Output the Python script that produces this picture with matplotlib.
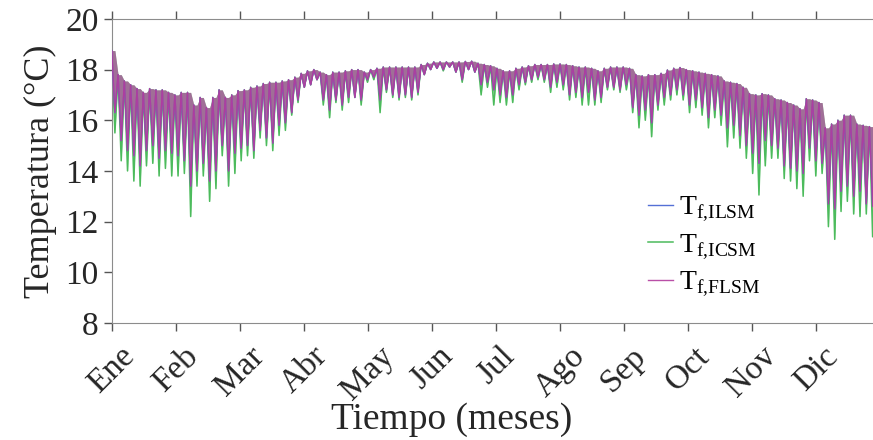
import matplotlib
matplotlib.use('Agg')
import matplotlib.pyplot as plt
import numpy as np

# Values sampled every 3 days (day 0, 3, ..., 363): daily upper level and
# the depth of the daily drop for each model, read off the reference.
sample_days = np.arange(0, 366, 3)

top = [18.75, 17.8, 17.55, 17.4, 17.25, 17.1, 17.25, 17.2, 17.2, 17.1,
       17.0, 17.1, 17.1, 16.6, 16.9, 16.5, 16.9, 17.2, 16.9, 17.0,
       17.17, 17.2, 17.3, 17.35, 17.45, 17.5, 17.5, 17.55, 17.6, 17.7,
       17.85, 17.95, 18.0, 17.9, 17.8, 17.9, 17.9, 17.95, 18.0, 18.0,
       17.9, 18.0, 18.05, 18.1, 18.1, 18.1, 18.1, 18.1, 18.1, 18.2,
       18.25, 18.3, 18.3, 18.3, 18.3, 18.3, 18.32, 18.33, 18.25, 18.2,
       18.15, 18.05, 17.95, 17.95, 18.05, 18.1, 18.15, 18.2, 18.2, 18.2,
       18.22, 18.22, 18.2, 18.15, 18.1, 18.1, 18.05, 17.95, 18.05, 18.1,
       18.1, 18.1, 18.05, 17.8, 17.75, 17.8, 17.8, 17.85, 17.98, 18.05,
       18.08, 18.0, 17.95, 17.9, 17.85, 17.8, 17.75, 17.55, 17.5, 17.45,
       17.3, 17.05, 17.0, 17.05, 17.0, 16.85, 16.8, 16.7, 16.6, 16.45,
       16.85, 16.8, 16.7, 15.7, 15.85, 16.0, 16.2, 16.2, 15.85, 15.8,
       15.75, 15.6]

low_flsm = [16.3, 15.2, 14.8, 14.6, 14.2, 14.8, 15.0, 14.5, 14.8, 14.7,
            14.6, 14.4, 13.4, 14.0, 14.3, 13.6, 14.0, 15.0, 14.0, 14.7,
            14.9, 15.0, 14.8, 15.6, 15.3, 15.1, 15.8, 15.9, 16.3, 16.8,
            17.3, 17.4, 17.6, 16.8, 16.4, 16.8, 16.6, 16.9, 16.9, 16.8,
            17.6, 17.7, 16.8, 17.2, 17.0, 16.9, 17.0, 16.9, 17.1, 17.8,
            18.0, 18.05, 18.0, 18.1, 17.9, 17.6, 18.0, 17.9, 17.4, 17.5,
            17.2, 17.0, 16.9, 17.0, 17.4, 17.5, 17.6, 17.7, 17.6, 17.3,
            17.5, 17.4, 17.0, 17.1, 16.9, 17.1, 16.8, 16.9, 17.3, 17.3,
            17.2, 17.4, 16.5, 16.2, 16.4, 15.9, 16.6, 16.9, 17.0, 17.2,
            17.0, 16.6, 16.8, 16.5, 16.1, 16.4, 16.2, 15.7, 15.8, 15.4,
            15.0, 14.7, 14.3, 15.2, 15.0, 14.9, 14.2, 14.1, 14.0, 13.9,
            14.9, 14.4, 14.3, 12.7, 12.5, 13.2, 13.4, 13.0, 13.2, 12.7,
            12.6, 13.0]

low_icsm = [15.5, 14.4, 14.0, 13.6, 13.4, 14.2, 14.3, 13.8, 14.1, 13.8,
            13.8, 13.9, 12.2, 13.4, 13.8, 12.8, 13.3, 14.6, 13.4, 13.9,
            14.4, 14.6, 14.5, 15.3, 15.0, 14.8, 15.4, 15.6, 16.2, 16.7,
            17.3, 17.4, 17.6, 16.6, 16.1, 16.7, 16.4, 16.7, 16.9, 16.6,
            17.5, 17.6, 16.3, 17.1, 16.9, 16.8, 16.9, 16.8, 17.0, 17.8,
            18.0, 18.05, 17.95, 18.1, 17.9, 17.5, 18.0, 17.9, 17.0, 17.3,
            16.6, 16.7, 16.6, 16.7, 17.2, 17.4, 17.5, 17.6, 17.5, 17.1,
            17.3, 17.2, 16.8, 16.9, 16.6, 16.6, 16.6, 16.7, 17.2, 17.2,
            17.1, 17.2, 16.3, 15.7, 16.0, 15.35, 16.4, 16.6, 16.8, 17.0,
            16.8, 16.3, 16.5, 16.2, 15.7, 16.1, 15.8, 14.95, 15.3, 14.9,
            14.5, 13.9, 13.05, 14.2, 14.5, 14.5, 13.7, 13.6, 13.3, 13.0,
            14.4, 13.8, 13.9, 11.8, 11.3, 12.4, 12.8, 12.3, 12.2, 12.3,
            11.4, 11.8]

months = ['Ene', 'Feb', 'Mar', 'Abr', 'May', 'Jun',
          'Jul', 'Ago', 'Sep', 'Oct', 'Nov', 'Dic']
yticks = [8, 10, 12, 14, 16, 18, 20]

col_ilsm = '#5470d6'
col_icsm = '#4cbb5c'
col_flsm = '#b23c9e'


def zigzag(tops, lows):
    # each sample: upper level, then the drop half way to the next sample
    x = np.empty(2 * len(tops))
    y = np.empty(2 * len(tops))
    x[0::2] = sample_days
    x[1::2] = sample_days + 1.5
    y[0::2] = tops
    y[1::2] = lows
    return x, y, np.repeat(tops, 2)


plt.rcParams['font.family'] = ['Liberation Serif', 'DejaVu Serif']
plt.rcParams['mathtext.fontset'] = 'custom'
plt.rcParams['mathtext.rm'] = 'Liberation Serif'

fig = plt.figure(figsize=(8.73, 4.40), dpi=100)
ax = fig.add_axes([0.128, 0.266, 0.880, 0.691])

x, y, upper = zigzag(top, low_icsm)
ax.fill_between(x, y, upper, color=col_icsm, alpha=0.7, lw=0, zorder=1)
ax.plot(x, y, color=col_icsm, lw=1.1, label=r'$\mathrm{T}_{\mathrm{f{,}ICSM}}$', zorder=2)
x, y, upper = zigzag(top, low_flsm)
ax.plot(x, y, color=col_ilsm, lw=1.0, label=r'$\mathrm{T}_{\mathrm{f{,}ILSM}}$', zorder=3)
ax.fill_between(x, y, upper, color=col_flsm, alpha=0.65, lw=0, zorder=4)
ax.plot(x, y, color=col_flsm, lw=1.0, alpha=0.9,
        label=r'$\mathrm{T}_{\mathrm{f{,}FLSM}}$', zorder=5)

ax.set_xlim(0, 365)
ax.set_ylim(8, 20)
ax.set_xticks(np.arange(12) * 365 / 12)
ax.set_xticklabels(months, rotation=45)
ax.set_yticks(yticks)

for s in ['left', 'top', 'bottom']:
    ax.spines[s].set_color('#8c8c8c')
ax.spines['right'].set_visible(False)
ax.tick_params(axis='both', direction='out', length=6, width=1,
               color='#555555', labelsize=24, labelcolor='#262626')
ax.tick_params(axis='x', top=True, pad=7)

ax.set_xlabel('Tiempo (meses)', fontsize=27, color='#262626', va='top')
ax.xaxis.set_label_coords(0.442, -0.26)
ax.set_ylabel('Temperatura (°C)', fontsize=26, color='#262626', labelpad=6)

handles, labels = ax.get_legend_handles_labels()
order = [1, 0, 2]
ax.legend([handles[i] for i in order], [labels[i] for i in order],
          loc='center left', bbox_to_anchor=(0.68, 0.25), frameon=False,
          fontsize=20, handlelength=0.9, handletextpad=0.2,
          labelspacing=0.3, borderpad=0)

fig.savefig('out.png', dpi=100)
